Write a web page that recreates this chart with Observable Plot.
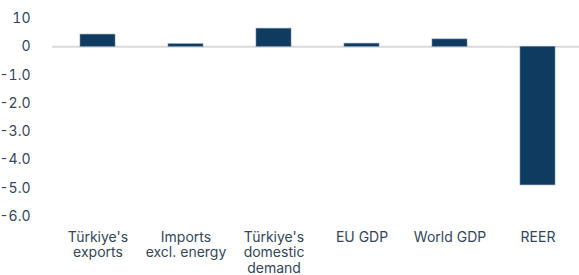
<!DOCTYPE html>
<html><head><meta charset="utf-8">
<script src="https://cdn.jsdelivr.net/npm/d3@7"></script>
<script src="https://cdn.jsdelivr.net/npm/@observablehq/plot@0.6"></script>
<style>body{margin:0;background:#fff;} svg{font-family:Inter,"Open Sans",sans-serif;}</style>
</head><body><div id="chart"></div>
<script>
const categories = ["Türkiye's\nexports", "Imports\nexcl. energy", "Türkiye's\ndomestic\ndemand", "EU GDP", "World GDP", "REER"];
const values = [0.43, 0.09, 0.64, 0.11, 0.26, -4.9];
const yTicks = [1, 0, -1, -2, -3, -4, -5, -6];
const yTickLabels = ["10", "0", "-1.0", "-2.0", "-3.0", "-4.0", "-5.0", "-6.0"];

const data = categories.map((c, i) => ({cat: c, value: values[i]}));
const textColor = "#34465a";

const chart = Plot.plot({
  width: 579, height: 275,
  marginTop: 18, marginBottom: 59, marginLeft: 52, marginRight: 0,
  style: {fontSize: "14px", color: textColor},
  x: {domain: categories, range: [61, 575], paddingInner: 0.6, paddingOuter: 0.19, label: null},
  y: {domain: [-6, 1], label: null},
  marks: [
    Plot.ruleY([0], {stroke: "#d9d9d9", strokeWidth: 2}),
    Plot.barY(data, {x: "cat", y: "value", fill: "#0f3b60", stroke: "#6d88a3", strokeWidth: 0.6}),
    Plot.axisY({ticks: yTicks, tickFormat: d => yTickLabels[yTicks.indexOf(d)], tickSize: 0, tickPadding: 22, fill: textColor, fontSize: 14}),
    Plot.axisX({tickSize: 0, tickPadding: 14, fill: textColor, fontSize: 14, lineHeight: 1.12})
  ]
});
document.getElementById("chart").appendChild(chart);
</script></body></html>
